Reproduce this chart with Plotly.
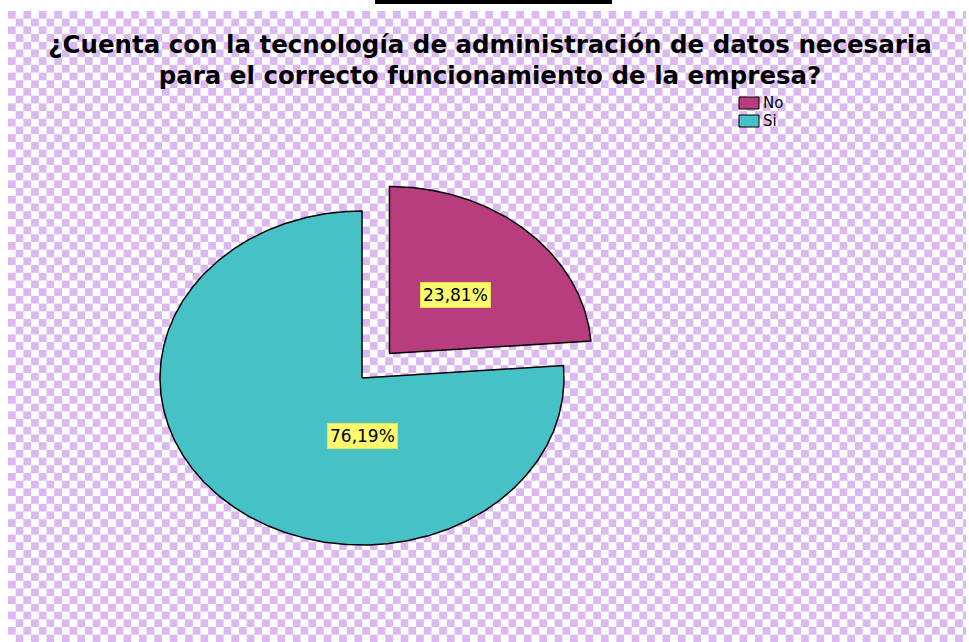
import base64
import numpy as np
import plotly.graph_objects as go

# ---- data ----
categories = ["No", "Si"]
percentages = [23.81, 76.19]
label_texts = ["23,81%", "76,19%"]
title_lines = ["¿Cuenta con la tecnología de administración de datos necesaria",
               "para el correcto funcionamiento de la empresa?"]

# ---- style ----
slice_colors = ["#b93c7e", "#46c1c5"]
pulls = [0.2, 0.0]
label_polar = [(0.48, None), (0.35, -90.0)]  # (radius, angle or None=bisector)
W, H = 969, 642
CX, CY = 362, 378      # pixel centre of pie
RX, RY = 202, 167      # pixel radii (stretched pie)
CHECK = "#dbb8f1"
TITLE_FONT = dict(family="DejaVu Sans", size=24.5, color="black", weight="bold")

fig = go.Figure()
total = sum(percentages)
start = 90.0
annotations = []
for cat, val, txt, col, pull, (lr, la) in zip(categories, percentages, label_texts,
                                              slice_colors, pulls, label_polar):
    sweep = val / total * 360.0
    end = start - sweep
    mid = np.radians((start + end) / 2)
    ox, oy = pull * np.cos(mid), pull * np.sin(mid)
    n = max(int(sweep * 2), 2)
    th = np.radians(np.linspace(start, end, n))
    xs = np.concatenate([[ox], ox + np.cos(th), [ox]])
    ys = np.concatenate([[oy], oy + np.sin(th), [oy]])
    fig.add_trace(go.Scatter(
        x=xs, y=ys, mode="lines", fill="toself", fillcolor=col,
        line=dict(color="black", width=1.5), name=cat, showlegend=False,
        hoverinfo="name"))
    ang = mid if la is None else np.radians(la)
    annotations.append(dict(
        x=ox + lr * np.cos(ang), y=oy + lr * np.sin(ang), xref="x", yref="y",
        text=txt, showarrow=False, bgcolor="#fbfb6c", bordercolor="#e2e25a",
        borderwidth=1, borderpad=2,
        font=dict(family="DejaVu Sans", size=17, color="black")))
    start = end

# manual legend
shapes = []
for i, (cat, col) in enumerate(zip(categories, slice_colors)):
    y0 = 97 + i * 18
    shapes.append(dict(type="rect", xref="paper", yref="paper",
                       x0=739 / W, x1=759 / W, y0=1 - y0 / H, y1=1 - (y0 + 12) / H,
                       fillcolor=col, line=dict(color="black", width=1)))
    annotations.append(dict(x=761 / W, y=1 - (y0 + 6) / H, xref="paper", yref="paper",
                            xanchor="left", yanchor="middle", text=cat, showarrow=False,
                            font=dict(family="DejaVu Sans", size=15, color="black")))

# black bar at top
shapes.append(dict(type="rect", xref="paper", yref="paper", x0=375 / W, x1=612 / W,
                   y0=1, y1=1 - 4 / H, fillcolor="black", line=dict(width=0)))

# checkered background
bw, bh = 958, 631
svg = (f'<svg xmlns="http://www.w3.org/2000/svg" width="{bw}" height="{bh}">'
       '<defs><pattern id="p" width="15.4" height="15.4" patternUnits="userSpaceOnUse">'
       '<rect width="15.4" height="15.4" fill="white"/>'
       f'<rect width="7.7" height="7.7" fill="{CHECK}"/>'
       f'<rect x="7.7" y="7.7" width="7.7" height="7.7" fill="{CHECK}"/>'
       '</pattern></defs><rect width="100%" height="100%" fill="url(#p)"/></svg>')
src = "data:image/svg+xml;base64," + base64.b64encode(svg.encode()).decode()

fig.update_layout(
    width=W, height=H, margin=dict(l=0, r=0, t=0, b=0),
    paper_bgcolor="white", plot_bgcolor="rgba(0,0,0,0)",
    title=dict(text="<br>".join(title_lines), x=490 / W, xanchor="center",
               y=1 - 52.5 / H, yanchor="middle", xref="paper", yref="paper",
               font=TITLE_FONT),
    xaxis=dict(range=[-CX / RX, (W - CX) / RX], visible=False, fixedrange=True),
    yaxis=dict(range=[-(H - CY) / RY, CY / RY], visible=False, fixedrange=True),
    images=[dict(source=src, xref="paper", yref="paper", x=8 / W, y=1 - 11 / H,
                 sizex=bw / W, sizey=bh / H, xanchor="left", yanchor="top",
                 sizing="stretch", layer="below")],
    shapes=shapes, annotations=annotations, showlegend=False,
)

fig.write_html("out.html", config={"displayModeBar": False},
               post_script="document.body.style.margin='0';")
